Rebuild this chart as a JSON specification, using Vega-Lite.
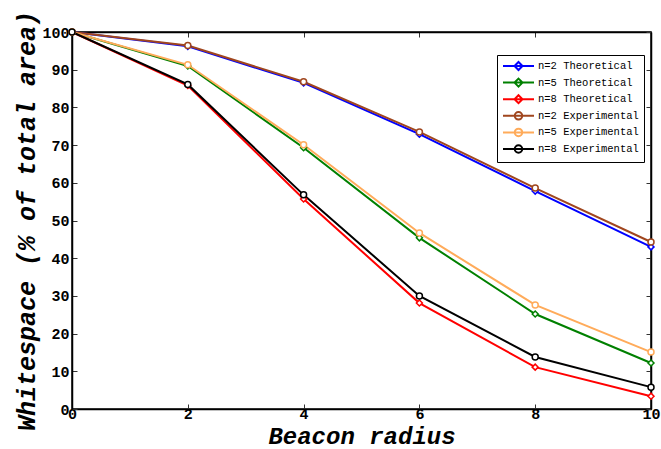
{
  "$schema": "https://vega.github.io/schema/vega-lite/v6.json",
  "width": 579,
  "height": 377,
  "autosize": "none",
  "padding": {"left": 72, "top": 32, "right": 10, "bottom": 40},
  "background": "white",
  "config": {
    "view": {"stroke": "black", "strokeWidth": 1.5},
    "font": "Liberation Mono"
  },
  "data": {
    "values": [
      {"series": "n=2 Theoretical", "type": "T", "r": 0, "w": 100},
      {"series": "n=2 Theoretical", "type": "T", "r": 2, "w": 96.2},
      {"series": "n=2 Theoretical", "type": "T", "r": 4, "w": 86.5},
      {"series": "n=2 Theoretical", "type": "T", "r": 6, "w": 72.9},
      {"series": "n=2 Theoretical", "type": "T", "r": 8, "w": 57.8},
      {"series": "n=2 Theoretical", "type": "T", "r": 10, "w": 43},
      {"series": "n=5 Theoretical", "type": "T", "r": 0, "w": 100},
      {"series": "n=5 Theoretical", "type": "T", "r": 2, "w": 91},
      {"series": "n=5 Theoretical", "type": "T", "r": 4, "w": 69.3},
      {"series": "n=5 Theoretical", "type": "T", "r": 6, "w": 45.4},
      {"series": "n=5 Theoretical", "type": "T", "r": 8, "w": 25.2},
      {"series": "n=5 Theoretical", "type": "T", "r": 10, "w": 12.2},
      {"series": "n=8 Theoretical", "type": "T", "r": 0, "w": 100},
      {"series": "n=8 Theoretical", "type": "T", "r": 2, "w": 85.8},
      {"series": "n=8 Theoretical", "type": "T", "r": 4, "w": 55.7},
      {"series": "n=8 Theoretical", "type": "T", "r": 6, "w": 28.1},
      {"series": "n=8 Theoretical", "type": "T", "r": 8, "w": 11.1},
      {"series": "n=8 Theoretical", "type": "T", "r": 10, "w": 3.4},
      {"series": "n=2 Experimental", "type": "E", "r": 0, "w": 100},
      {"series": "n=2 Experimental", "type": "E", "r": 2, "w": 96.4},
      {"series": "n=2 Experimental", "type": "E", "r": 4, "w": 86.8},
      {"series": "n=2 Experimental", "type": "E", "r": 6, "w": 73.5},
      {"series": "n=2 Experimental", "type": "E", "r": 8, "w": 58.6},
      {"series": "n=2 Experimental", "type": "E", "r": 10, "w": 44.3},
      {"series": "n=5 Experimental", "type": "E", "r": 0, "w": 100},
      {"series": "n=5 Experimental", "type": "E", "r": 2, "w": 91.3},
      {"series": "n=5 Experimental", "type": "E", "r": 4, "w": 70.1},
      {"series": "n=5 Experimental", "type": "E", "r": 6, "w": 46.7},
      {"series": "n=5 Experimental", "type": "E", "r": 8, "w": 27.6},
      {"series": "n=5 Experimental", "type": "E", "r": 10, "w": 15.1},
      {"series": "n=8 Experimental", "type": "E", "r": 0, "w": 100},
      {"series": "n=8 Experimental", "type": "E", "r": 2, "w": 86.1},
      {"series": "n=8 Experimental", "type": "E", "r": 4, "w": 56.8},
      {"series": "n=8 Experimental", "type": "E", "r": 6, "w": 30},
      {"series": "n=8 Experimental", "type": "E", "r": 8, "w": 13.8},
      {"series": "n=8 Experimental", "type": "E", "r": 10, "w": 5.8}
    ]
  },
  "layer": [
    {
      "mark": {"type": "line", "strokeWidth": 2, "clip": false},
      "encoding": {
        "x": {
          "field": "r", "type": "quantitative",
          "scale": {"domain": [0, 10], "nice": false},
          "axis": {
            "title": "Beacon radius", "values": [0, 2, 4, 6, 8, 10], "grid": false,
            "tickSize": -5, "tickColor": "#333", "domainColor": "black", "domainWidth": 1.5,
            "labelFont": "Liberation Mono", "labelFontWeight": "bold", "labelFontSize": 15, "labelColor": "black",
            "labelPadding": 2, "labelFlush": false,
            "titleFont": "Liberation Mono", "titleFontWeight": "bold", "titleFontStyle": "italic",
            "titleFontSize": 24, "titleColor": "black", "titlePadding": 3
          }
        },
        "y": {
          "field": "w", "type": "quantitative",
          "scale": {"domain": [0, 100], "nice": false},
          "axis": {
            "title": "Whitespace (% of total area)", "values": [0, 10, 20, 30, 40, 50, 60, 70, 80, 90, 100], "grid": false,
            "tickSize": -5, "tickColor": "#333", "domainColor": "black", "domainWidth": 1.5,
            "labelFont": "Liberation Mono", "labelFontWeight": "bold", "labelFontSize": 15, "labelColor": "black",
            "labelPadding": 8, "labelFlush": false,
            "titleFont": "Liberation Mono", "titleFontWeight": "bold", "titleFontStyle": "italic",
            "titleFontSize": 25, "titleColor": "black", "titlePadding": 2
          }
        },
        "color": {
          "field": "series", "type": "nominal",
          "scale": {
            "domain": ["n=2 Theoretical", "n=5 Theoretical", "n=8 Theoretical", "n=2 Experimental", "n=5 Experimental", "n=8 Experimental"],
            "range": ["#0000ff", "#008000", "#ff0000", "#a0461e", "#ffab5a", "#000000"]
          },
          "legend": {
            "title": null,
            "orient": "none",
            "legendX": 425,
            "legendY": 23,
            "fillColor": "white",
            "strokeColor": "black",
            "padding": 5,
            "symbolSize": 100,
            "symbolStrokeWidth": 2,
            "labelOffset": 24,
            "labelFont": "Liberation Mono",
            "labelFontSize": 10.5,
            "labelColor": "black",
            "rowPadding": 0.6,
            "labelLimit": 200,
            "encode": {
              "symbols": {
                "update": {
                  "shape": {"signal": "test(/Theoretical/, datum.value) ? 'M-1,0H5.2M2.1,-0.8L2.9,0L2.1,0.8L1.3,0Z' : 'M-1,0H5.2M2.85,0A0.75,0.75 0 1,1 1.35,0A0.75,0.75 0 1,1 2.85,0'"},
                  "fill": {"value": "transparent"}
                }
              }
            }
          }
        }
      }
    },
    {
      "mark": {"type": "point", "filled": false, "fill": "white", "fillOpacity": 1, "strokeWidth": 1.5, "size": 36, "opacity": 1, "clip": false},
      "encoding": {
        "x": {"field": "r", "type": "quantitative", "axis": null},
        "y": {"field": "w", "type": "quantitative", "axis": null},
        "color": {"field": "series", "type": "nominal", "legend": null},
        "shape": {
          "field": "type", "type": "nominal",
          "scale": {"domain": ["T", "E"], "range": ["diamond", "circle"]},
          "legend": null
        }
      }
    },
    {
      "mark": {"type": "point", "opacity": 0},
      "encoding": {
        "x": {
          "field": "r", "type": "quantitative",
          "axis": {"orient": "top", "values": [0, 2, 4, 6, 8, 10], "labels": false, "title": null, "grid": false, "tickSize": -5, "tickColor": "#333", "domainColor": "black", "domainWidth": 1.5}
        },
        "y": {
          "field": "w", "type": "quantitative",
          "axis": {"orient": "right", "values": [0, 10, 20, 30, 40, 50, 60, 70, 80, 90, 100], "labels": false, "title": null, "grid": false, "tickSize": -5, "tickColor": "#333", "domainColor": "black", "domainWidth": 1.5}
        }
      }
    }
  ],
  "resolve": {"axis": {"x": "independent", "y": "independent"}}
}
